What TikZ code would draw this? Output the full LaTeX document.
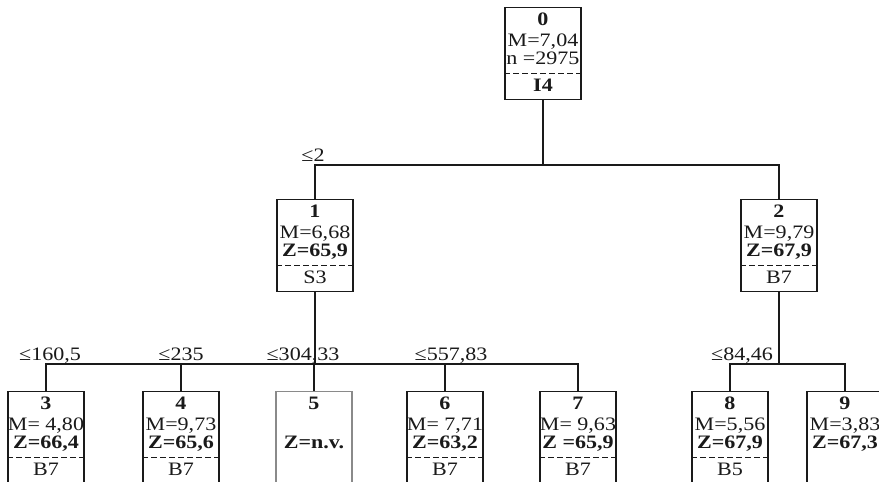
\documentclass[tikz,border=0pt]{standalone}
\usepackage{fontspec}
\setmainfont{Liberation Serif}[FakeStretch=1.16]
\usepackage{xcolor}
\definecolor{Ink}{HTML}{1A1A1A}
\definecolor{Faint}{HTML}{8A8A8A}
\newcommand{\boxfont}{\fontsize{19pt}{20pt}\selectfont}
\tikzset{treebox/.style={rectangle,draw=Ink,line width=1.2pt,minimum width=76pt,minimum height=92pt,inner sep=0pt,anchor=north},emptybox/.style={treebox,draw=Faint},title/.style={anchor=base,inner sep=0pt,text=Ink,font=\boxfont\bfseries},stat/.style={anchor=base,inner sep=0pt,text=Ink,font=\boxfont},cut/.style={draw=Ink,line width=1pt,dash pattern=on 6pt off 3pt},edge/.style={draw=Ink,line width=1.2pt},cond/.style={anchor=base,inner sep=0pt,text=Ink,font=\boxfont}}
% box with id, two stats, dashed split and split variable
\newcommand{\treenode}[7]{\node[treebox] (#1) at (#2,#3) {};
\node[title] (#1-id) at ([yshift=-18pt]#1.north) {#4};
\node[stat] (#1-m) at ([yshift=-39pt]#1.north) {#5};
\node[stat] (#1-z) at ([yshift=-57pt]#1.north) {#6};
\draw[cut] ([yshift=-66pt]#1.north west) -- ([yshift=-66pt]#1.north east);
\node[stat] (#1-var) at ([yshift=-84pt]#1.north) {#7};}

\begin{document}
\begin{tikzpicture}[x=1pt,y=-1pt]
\fill[white] (0,0) rectangle (879,482);
\useasboundingbox (0,0) rectangle (879,482);
% root and first split
\treenode{n0}{543}{7}{0}{M=7,04}{n =2975}{\textbf{I4}}
\treenode{n1}{315}{199}{1}{M=6,68}{\textbf{Z=65,9}}{S3}
\treenode{n2}{779}{199}{2}{M=9,79}{\textbf{Z=67,9}}{B7}
\coordinate (j0) at (543,165);
\draw[edge] (n0.south) -- (j0);\draw[edge] (n1.north) |- (j0);\draw[edge] (n2.north) |- (j0);
\node[cond] (c1) at (313,161) {≤2};
% leaves
\treenode{n3}{46}{391}{3}{M= 4,80}{\textbf{Z=66,4}}{B7}
\treenode{n4}{181}{391}{4}{M=9,73}{\textbf{Z=65,6}}{B7}
\node[emptybox] (n5) at (314,391) {};
\node[title] (n5-id) at ([yshift=-18pt]n5.north) {5};\node[title] (n5-z) at ([yshift=-57pt]n5.north) {Z=n.v.};
\treenode{n6}{445}{391}{6}{M= 7,71}{\textbf{Z=63,2}}{B7}
\treenode{n7}{578}{391}{7}{M= 9,63}{\textbf{Z =65,9}}{B7}
\treenode{n8}{730}{391}{8}{M=5,56}{\textbf{Z=67,9}}{B5}
\node[treebox] (n9) at (845,391) {};
\node[title] (n9-id) at ([yshift=-18pt]n9.north) {9};\node[stat] (n9-m) at ([yshift=-39pt]n9.north) {M=3,83};\node[title] (n9-z) at ([yshift=-57pt]n9.north) {Z=67,3};
\coordinate (j1) at (315,364);\coordinate (j2) at (779,364);
\draw[edge] (n1.south) -- (j1);\draw[edge] (n2.south) -- (j2);
\foreach \c in {n3,n4,n5,n6,n7} \draw[edge] (\c.north) |- (j1);
\foreach \c in {n8,n9} \draw[edge] (\c.north) |- (j2);
\node[cond] (c3) at (50,360) {≤160,5};\node[cond] (c4) at (181,360) {≤235};\node[cond] (c5) at (303,360) {≤304,33};
\node[cond] (c6) at (451,360) {≤557,83};\node[cond] (c8) at (742,360) {≤84,46};
\end{tikzpicture}
\end{document}
